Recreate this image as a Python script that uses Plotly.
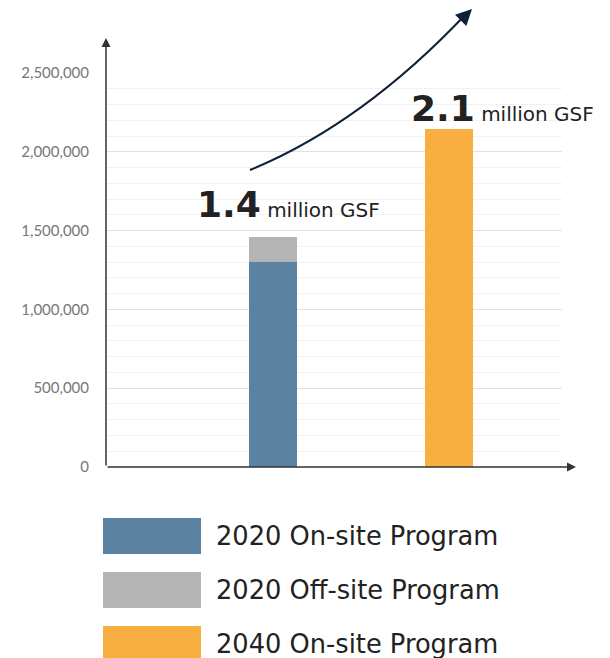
import plotly.graph_objects as go

# ---- data ----
categories = ["2020", "2040"]
onsite_2020 = [1300000, None]
offsite_2020 = [160000, None]
onsite_2040 = [None, 2145000]
totals = [1460000, 2145000]
total_labels = ["1.4", "2.1"]
series_names = ["2020 On-site Program", "2020 Off-site Program", "2040 On-site Program"]
series_colors = ["#5b82a0", "#b4b4b4", "#f9ae41"]
ytick_vals = [0, 500000, 1000000, 1500000, 2000000, 2500000]

W, H = 610, 658
OFF = 8  # page body margin
L, R, T, B = 106, 562, 73, 467  # plot area in screen px


def px(x):
    return (x - L) / (R - L)


def py(y):
    return (B - y) / (B - T)


fig = go.Figure()
for name, vals, col in zip(series_names, [onsite_2020, offsite_2020, onsite_2040], series_colors):
    fig.add_trace(go.Bar(x=categories, y=vals, name=name, marker=dict(color=col, line_width=0),
                         width=0.273, showlegend=False, hoverinfo="skip"))

fig.update_layout(
    width=W, height=H, barmode="stack",
    margin=dict(l=L - OFF, r=W - R + OFF, t=T - OFF, b=H - B + OFF, pad=0),
    paper_bgcolor="white", plot_bgcolor="white",
    font=dict(family="DejaVu Sans", color="#222"),
    xaxis=dict(type="category", range=[-0.949, 1.642], showticklabels=False, showgrid=False,
               zeroline=False, showline=False, ticks=""),
    yaxis=dict(range=[0, 2500000], tickvals=ytick_vals, tickformat=",", showline=False,
               zeroline=False, showgrid=True, gridcolor="#e2e2e2", gridwidth=1,
               tickfont=dict(family="Lato", size=15, color="#777"),
               ticks="outside", ticklen=13, tickcolor="rgba(0,0,0,0)",
               minor=dict(dtick=100000, showgrid=True, gridcolor="#f2f2f2", gridwidth=1)),
)

# axis arrows
fig.add_annotation(xref="paper", yref="paper", x=0, y=py(38), ax=0, ay=B - 38, axref="pixel", ayref="pixel",
                   text="", showarrow=True, arrowhead=2, arrowsize=1.2, arrowwidth=1.5, arrowcolor="#333")
fig.add_annotation(xref="paper", yref="paper", x=px(576), y=0, ax=-(576 - L), ay=0,
                   text="", showarrow=True, arrowhead=2, arrowsize=1.2, arrowwidth=1.5, arrowcolor="#333")

# growth curve arrow
p0, c, p2 = (250, 170), (362, 124), (466, 14)
fig.add_shape(type="path", xref="paper", yref="paper",
              path=f"M {px(p0[0])},{py(p0[1])} Q {px(c[0])},{py(c[1])} {px(p2[0])},{py(p2[1])}",
              line=dict(color="#0e2136", width=2))
fig.add_annotation(xref="paper", yref="paper", x=px(472), y=py(9), ax=-12, ay=12,
                   text="", showarrow=True, arrowhead=2, arrowsize=1.6, arrowwidth=2, arrowcolor="#0e2136")

# total labels
xshifts = [-78, -40]
yshifts = [10, -2]
for i, (tot, lab, xs, ys) in enumerate(zip(totals, total_labels, xshifts, yshifts)):
    fig.add_annotation(x=i, y=tot, xref="x", yref="y", xanchor="left", yanchor="bottom",
                       xshift=xs, yshift=ys, showarrow=False,
                       text=f"<b>{lab}</b><span style='font-size:20px'> million GSF</span>",
                       font=dict(family="DejaVu Sans", size=36, color="#222"))

# custom legend
for i, (name, col) in enumerate(zip(series_names, series_colors)):
    top = 518 + 54 * i
    fig.add_shape(type="rect", xref="paper", yref="paper", x0=px(103), x1=px(201),
                  y0=py(top), y1=py(top + 36), fillcolor=col, line_width=0)
    fig.add_annotation(xref="paper", yref="paper", x=px(214), y=py(top + 18), xanchor="left",
                       yanchor="middle", text=name, showarrow=False,
                       font=dict(family="DejaVu Sans", size=25.7, color="#222"))

fig.write_html("out.html")
